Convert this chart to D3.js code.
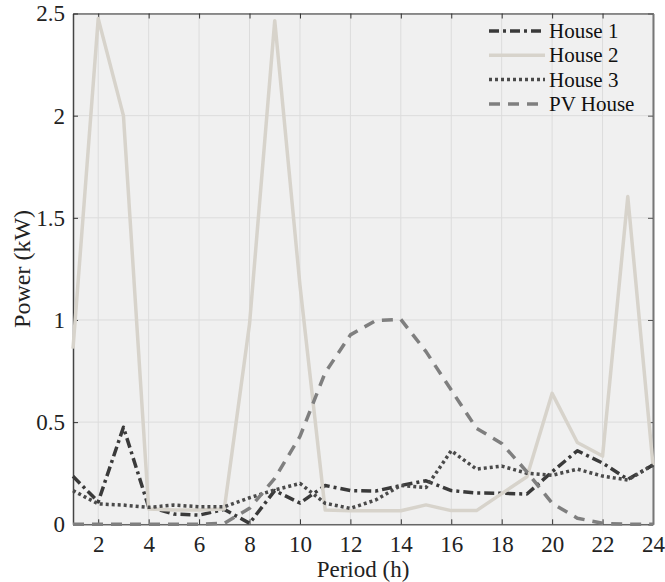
<!DOCTYPE html>
<html><head><meta charset="utf-8">
<script src="https://cdn.jsdelivr.net/npm/d3@7"></script>
<style>body{margin:0;background:#fff;}svg{display:block;font-family:"Liberation Serif";} svg text{font-family:"Liberation Serif" !important;}</style>
</head><body>
<svg id="c" width="665" height="582" font-family="Liberation Serif"></svg>
<script>
const periods = d3.range(1, 25);
const house1 = [0.235,0.11,0.475,0.085,0.05,0.045,0.073,0.005,0.165,0.104,0.19,0.165,0.163,0.19,0.213,0.165,0.153,0.152,0.148,0.257,0.36,0.30,0.22,0.29];
const house2 = [0.86,2.475,2.0,0.075,0.07,0.07,0.075,0.98,2.465,1.17,0.07,0.066,0.066,0.066,0.095,0.067,0.067,0.15,0.233,0.641,0.4,0.334,1.604,0.29];
const house3 = [0.165,0.1,0.094,0.083,0.094,0.086,0.086,0.13,0.168,0.2,0.103,0.078,0.119,0.19,0.18,0.36,0.27,0.285,0.25,0.24,0.27,0.236,0.217,0.29];
const pvHouse = [0,0,0,0,0,0,0.005,0.078,0.225,0.43,0.742,0.927,0.997,1.003,0.845,0.657,0.47,0.396,0.257,0.103,0.03,0.005,0,0];
const seriesNames = ["House 1","House 2","House 3","PV House"];
const xTicks = [2,4,6,8,10,12,14,16,18,20,22,24];
const yTicks = [0,0.5,1,1.5,2,2.5];
const yTickLabels = ["0","0.5","1","1.5","2","2.5"];

const series = [
  {name: seriesNames[0], values: house1, color: "#3a3a3a", dash: "10,4,3,4"},
  {name: seriesNames[1], values: house2, color: "#d7d3cb", dash: null},
  {name: seriesNames[2], values: house3, color: "#4a4a4a", dash: "3,3"},
  {name: seriesNames[3], values: pvHouse, color: "#7f7f7f", dash: "11,8"}
];

const svg = d3.select("#c");
const L = 73, R = 653, T = 13.5, B = 524.3;
const x = d3.scaleLinear().domain([1,24]).range([L,R]);
const y = d3.scaleLinear().domain([0,2.5]).range([B,T]);
const font = "Liberation Serif";

svg.append("rect").attr("x",L).attr("y",T).attr("width",R-L).attr("height",B-T).attr("fill","#f0f0f0");

// grid
svg.append("g").selectAll("line").data(xTicks).join("line")
  .attr("x1",d=>x(d)).attr("x2",d=>x(d)).attr("y1",T).attr("y2",B)
  .attr("stroke","#dcdcdc").attr("stroke-width",1);
svg.append("g").selectAll("line").data(yTicks).join("line")
  .attr("x1",L).attr("x2",R).attr("y1",d=>y(d)).attr("y2",d=>y(d))
  .attr("stroke","#dcdcdc").attr("stroke-width",1);

// axes
const xAxis = d3.axisBottom(x).tickValues(xTicks).tickSizeInner(-5).tickSizeOuter(0).tickPadding(11).tickFormat(d3.format("d"));
const gx = svg.append("g").attr("transform",`translate(0,${B})`).call(xAxis);
gx.attr("font-family",font).attr("font-size",23);
gx.select(".domain").attr("stroke","#666").attr("stroke-width",1.5);
gx.selectAll(".tick line").attr("stroke","#333");
gx.selectAll("text").attr("font-family",font).attr("fill","#222").attr("dy","0.71em");

const yAxis = d3.axisLeft(y).tickValues(yTicks).tickSizeInner(-5).tickSizeOuter(0).tickPadding(8).tickFormat((d,i)=>yTickLabels[i]);
const gy = svg.append("g").attr("transform",`translate(${L},0)`).call(yAxis);
gy.attr("font-family",font).attr("font-size",23);
gy.select(".domain").attr("stroke","#444").attr("stroke-width",1.5);
gy.selectAll(".tick line").attr("stroke","#333");
gy.selectAll("text").attr("font-family",font).attr("fill","#222");

const gTop = svg.append("g").attr("transform",`translate(0,${T})`).call(d3.axisTop(x).tickValues(xTicks).tickSizeInner(-5).tickSizeOuter(0).tickFormat(""));
gTop.select(".domain").attr("stroke","#333").attr("stroke-width",1.2);
gTop.selectAll(".tick line").attr("stroke","#333");
const gRight = svg.append("g").attr("transform",`translate(${R},0)`).call(d3.axisRight(y).tickValues(yTicks).tickSizeInner(-5).tickSizeOuter(0).tickFormat(""));
gRight.select(".domain").attr("stroke","#777").attr("stroke-width",2);
gRight.selectAll(".tick line").attr("stroke","#555");

// lines
const line = d3.line().x((d,i)=>x(periods[i])).y(d=>y(d));
svg.append("g").selectAll("path").data(series).join("path")
  .attr("d",d=>line(d.values)).attr("fill","none")
  .attr("stroke",d=>d.color).attr("stroke-width",3.5)
  .attr("stroke-dasharray",d=>d.dash).attr("stroke-linejoin","round");

// legend
const lg = svg.append("g");
series.forEach((s,i)=>{
  const yy = 31 + i*24.3;
  lg.append("line").attr("x1",489).attr("x2",545).attr("y1",yy).attr("y2",yy)
    .attr("stroke",s.color).attr("stroke-width",3.5).attr("stroke-dasharray",s.dash);
  lg.append("text").attr("x",549).attr("y",yy+7).attr("font-family",font).attr("font-size",21)
    .attr("fill","#111").text(s.name);
});

// titles
svg.append("text").attr("x",(L+R)/2).attr("y",577).attr("text-anchor","middle")
  .attr("font-family",font).attr("font-size",23).attr("fill","#222").text("Period (h)");
svg.append("text").attr("transform",`translate(30,${(T+B)/2}) rotate(-90)`).attr("text-anchor","middle")
  .attr("font-family",font).attr("font-size",24).attr("fill","#222").text("Power (kW)");
</script>
</body></html>
